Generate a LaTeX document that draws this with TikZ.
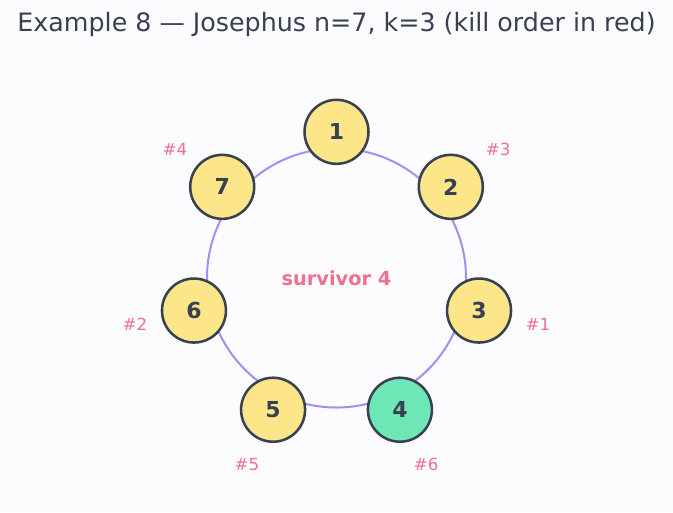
\documentclass[tikz,border=0pt]{standalone}
\usepackage{fontspec}
\setmainfont{DejaVu Sans}
\usetikzlibrary{calc}
\definecolor{bgcol}{HTML}{FCFCFE}
\definecolor{inkcol}{HTML}{374151}
\definecolor{ringcol}{HTML}{A390EE}
\definecolor{killcol}{HTML}{F0708E}
\definecolor{pplfill}{HTML}{FDE68A}
\definecolor{survfill}{HTML}{6EE7B7}
\tikzset{every picture/.style={line width=0.75pt}}
\tikzset{
  person/.style={circle, draw=inkcol, line width=1.9pt, fill=pplfill, minimum size=48pt, inner sep=0pt, text=inkcol, font=\fontsize{16.5}{19}\selectfont\bfseries},
  survivor/.style={person, fill=survfill},
  killtag/.style={text=killcol, font=\fontsize{12.5}{15}\selectfont, inner sep=0.75pt},
}

\begin{document}
\begin{tikzpicture}[x=0.75pt,y=0.75pt,yscale=-1,xscale=1]
%set diagram size 673 x 512
\path[fill=bgcol] (0,0) rectangle (673,512);
\useasboundingbox (0,0) rectangle (673,512);

% Title
\node (title) at (336.5,25) [text=inkcol, font=\fontsize{19}{22}\selectfont] {Example 8 — Josephus n=7, k=3 (kill order in red)};

%Shape: Circle (ring)
\coordinate (ctr) at (336.5,278);
\draw [ringcol, line width=1.5pt] (ctr) circle [radius=129.5];

% People
\foreach \i in {1,2,3,5,6,7} {
  \node (n\i) [person] at ($(ctr)+({90-(\i-1)*360/7}:146.2 and -146.2)$) {\i};
}
\node (n4) [survivor] at ($(ctr)+({90-3*360/7}:146.2 and -146.2)$) {4};

% Kill order
\foreach \i/\k in {3/1,6/2,2/3,7/4,5/5,4/6} {
  \node (k\k) [killtag] at ($(ctr)+({90-(\i-1)*360/7}:206.7 and -206.7)$) {\#\k};
}

% Text Node
\node (surv) at (336.5,278) [text=killcol, font=\fontsize{14.5}{17}\selectfont\bfseries] {survivor 4};
\end{tikzpicture}
\end{document}
